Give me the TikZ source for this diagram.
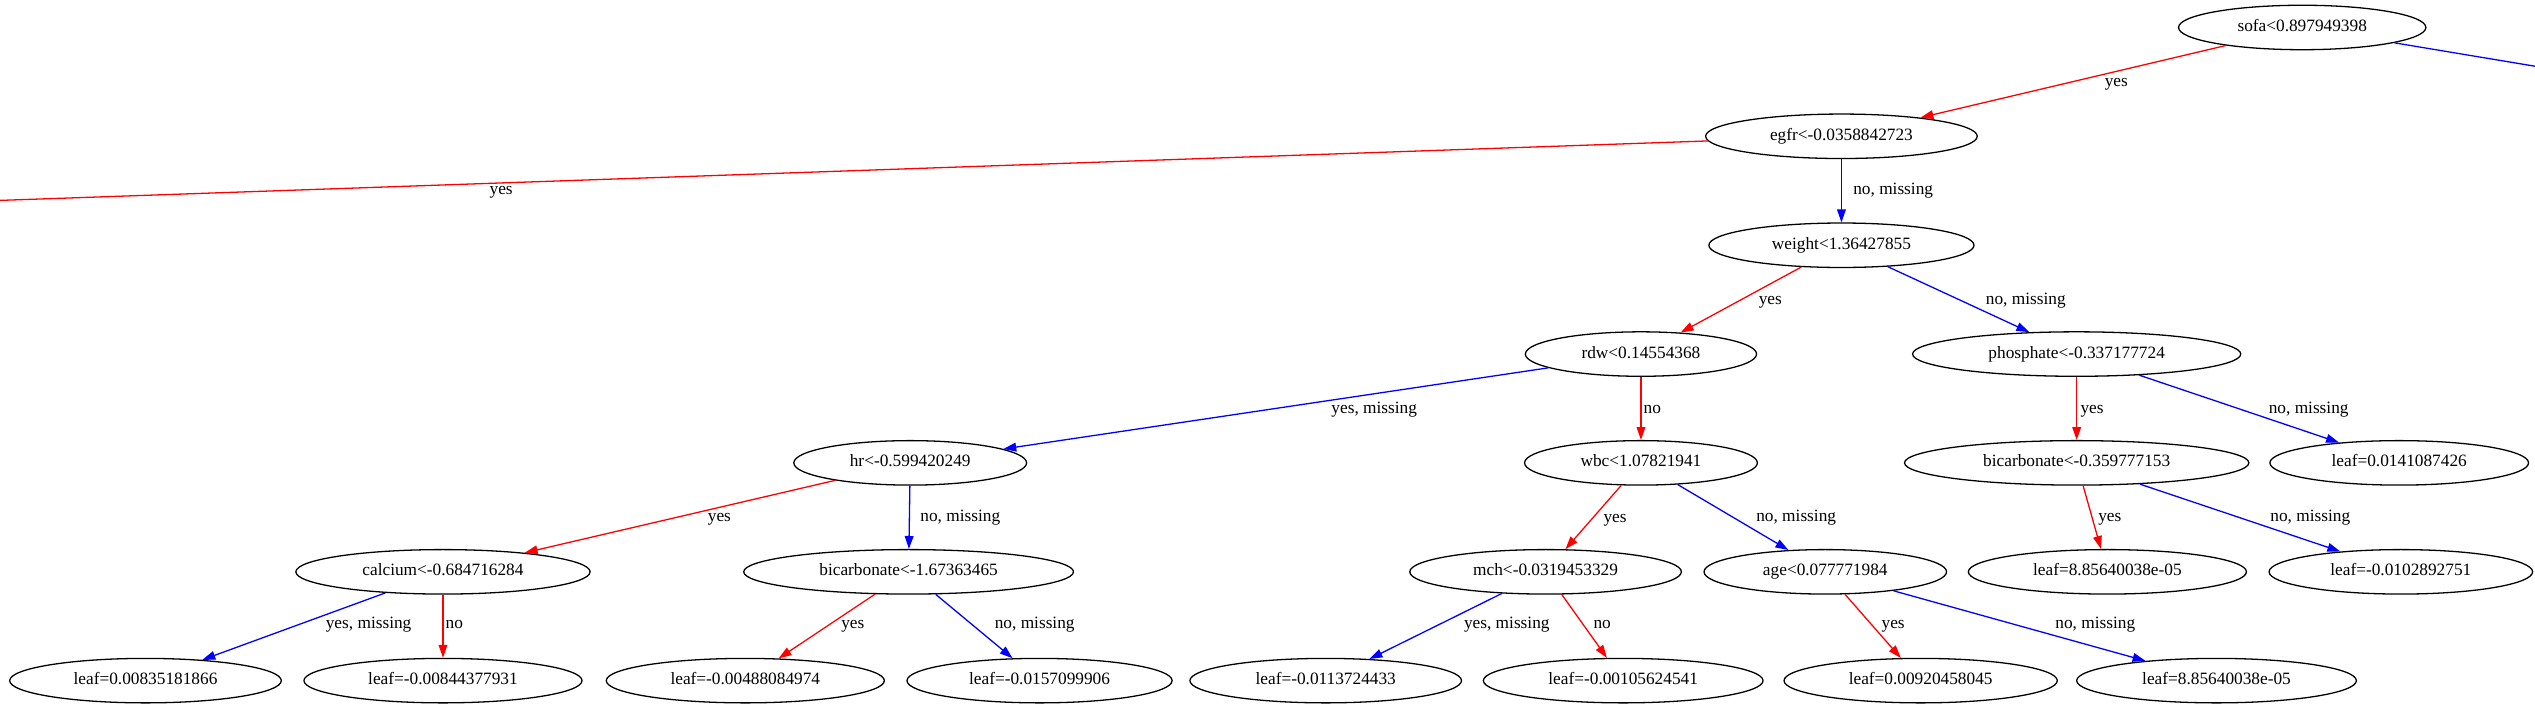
\documentclass[tikz,border=0pt]{standalone}
\usepackage{fontspec}
\setmainfont{Liberation Serif}
\usetikzlibrary{shapes.geometric,arrows.meta}
\begin{document}
\begin{tikzpicture}[x=1pt,y=-1pt,
  every node/.style={font=\fontsize{10.7}{13}\selectfont, text height=7.4pt, text depth=2.3pt},
  tn/.style={ellipse, draw=black, line width=0.8pt, minimum height=27.5pt, inner sep=0pt},
  lbl/.style={inner sep=0pt},
  yesline/.style={draw=red, line width=0.8pt, -{Triangle[length=8pt,width=5.4pt]}},
  noline/.style={draw=blue, line width=0.8pt, -{Triangle[length=8pt,width=5.4pt]}},
  yesfree/.style={draw=red, line width=0.8pt},
  nofree/.style={draw=blue, line width=0.8pt}
]
\useasboundingbox (0,0) rectangle (1568,438);
\clip (0,0) rectangle (1568,438);
\fill[white] (0,0) rectangle (1568,438);

% nodes
\node[tn, minimum width=153pt] (sofa) at (1424,17) {sofa<0.897949398};
\node[tn, minimum width=168pt] (egfr) at (1139,84.3) {egfr<-0.0358842723};
\node[tn, minimum width=164pt] (weight) at (1139,151.7) {weight<1.36427855};
\node[tn, minimum width=143pt] (rdw) at (1015,219) {rdw<0.14554368};
\node[tn, minimum width=203pt] (phos) at (1284.5,219) {phosphate<-0.337177724};
\node[tn, minimum width=144pt] (hr) at (563,286.3) {hr<-0.599420249};
\node[tn, minimum width=144pt] (wbc) at (1015,286.3) {wbc<1.07821941};
\node[tn, minimum width=213pt] (bicB) at (1284.5,286.3) {bicarbonate<-0.359777153};
\node[tn, minimum width=160pt] (lfA) at (1484,286.3) {leaf=0.0141087426};
\node[tn, minimum width=182pt] (calc) at (274,353.7) {calcium<-0.684716284};
\node[tn, minimum width=204pt] (bicA) at (562,353.7) {bicarbonate<-1.67363465};
\node[tn, minimum width=168pt] (mch) at (956,353.7) {mch<-0.0319453329};
\node[tn, minimum width=150pt] (age) at (1129,353.7) {age<0.077771984};
\node[tn, minimum width=172pt] (lfB) at (1303.5,353.7) {leaf=8.85640038e-05};
\node[tn, minimum width=163pt] (lfC) at (1485,353.7) {leaf=-0.0102892751};
\node[tn, minimum width=168pt] (lf1) at (90,421) {leaf=0.00835181866};
\node[tn, minimum width=172pt] (lf2) at (274,421) {leaf=-0.00844377931};
\node[tn, minimum width=172pt] (lf3) at (461,421) {leaf=-0.00488084974};
\node[tn, minimum width=164pt] (lf4) at (643,421) {leaf=-0.0157099906};
\node[tn, minimum width=168pt] (lf5) at (820,421) {leaf=-0.0113724433};
\node[tn, minimum width=173pt] (lf6) at (1004,421) {leaf=-0.00105624541};
\node[tn, minimum width=169pt] (lf7) at (1188,421) {leaf=0.00920458045};
\node[tn, minimum width=173pt] (lf8) at (1371,421) {leaf=8.85640038e-05};

\coordinate (offR) at (1600,46.3);
\coordinate (offL) at (-30,125);

% connectors
\draw[nofree] (sofa) -- (offR);
\draw[yesline] (sofa) -- (egfr);
\draw[yesfree] (egfr) -- (offL);
\draw[noline] (egfr) -- (weight);
\draw[yesline] (weight) -- (rdw);
\draw[noline] (weight) -- (phos);
\draw[noline] (rdw) -- (hr);
\draw[yesline] (rdw) -- (wbc);
\draw[yesline] (phos) -- (bicB);
\draw[noline] (phos) -- (lfA);
\draw[yesline] (hr) -- (calc);
\draw[noline] (hr) -- (bicA);
\draw[yesline] (wbc) -- (mch);
\draw[noline] (wbc) -- (age);
\draw[yesline] (bicB) -- (lfB);
\draw[noline] (bicB) -- (lfC);
\draw[noline] (calc) -- (lf1);
\draw[yesline] (calc) -- (lf2);
\draw[yesline] (bicA) -- (lf3);
\draw[noline] (bicA) -- (lf4);
\draw[noline] (mch) -- (lf5);
\draw[yesline] (mch) -- (lf6);
\draw[yesline] (age) -- (lf7);
\draw[noline] (age) -- (lf8);

% edge labels
\node[lbl] (t1) at (1309,51) {yes};
\node[lbl] (t2) at (310,118) {yes};
\node[lbl] (t3) at (1171,118) {no, missing};
\node[lbl] (t4) at (1095,186) {yes};
\node[lbl] (t5) at (1253,186) {no, missing};
\node[lbl] (t6) at (850,253) {yes, missing};
\node[lbl] (t7) at (1022,253) {no};
\node[lbl] (t8) at (1294,253) {yes};
\node[lbl] (t9) at (1428,253) {no, missing};
\node[lbl] (t10) at (445,320) {yes};
\node[lbl] (t11) at (594,320) {no, missing};
\node[lbl] (t12) at (999,320.5) {yes};
\node[lbl] (t13) at (1111,320) {no, missing};
\node[lbl] (t14) at (1305,320) {yes};
\node[lbl] (t15) at (1429,320) {no, missing};
\node[lbl] (t16) at (228,386.5) {yes, missing};
\node[lbl] (t17) at (281,386.5) {no};
\node[lbl] (t18) at (527.5,386.5) {yes};
\node[lbl] (t19) at (640,386.5) {no, missing};
\node[lbl] (t20) at (932,386.5) {yes, missing};
\node[lbl] (t21) at (991,386.5) {no};
\node[lbl] (t22) at (1171,386.5) {yes};
\node[lbl] (t23) at (1296,386.5) {no, missing};
\end{tikzpicture}
\end{document}
